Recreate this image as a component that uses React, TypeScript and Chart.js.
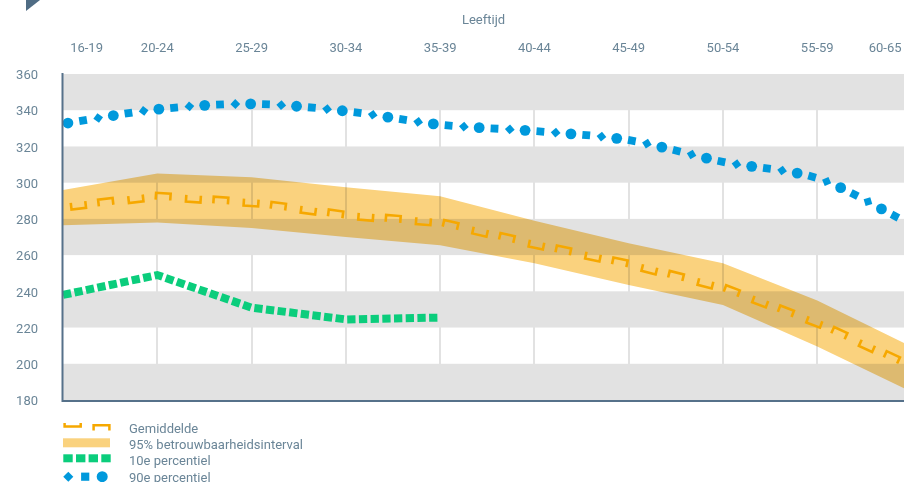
import { useEffect, useRef } from 'react';
import { Chart, registerables } from 'chart.js';

Chart.register(...registerables);

// ---------- data ----------
const AGE_LABELS = ['16-19', '20-24', '25-29', '30-34', '35-39', '40-44', '45-49', '50-54', '55-59', '60-65'];
const AGE_LABEL_POS = [0.25, 1, 2, 3, 4, 5, 6, 7, 8, 8.72];
const AGE_X = [0, 1, 2, 3, 4, 5, 6, 7, 8, 8.92];
const X_MIN = 0;
const X_MAX = 8.92;

const MEAN = [286.5, 292.5, 289, 282, 278, 266, 255, 242, 222.5, 200.5];
const CI_UPPER = [296, 305, 303, 297.5, 292.5, 279, 266.5, 255.5, 235, 211.5];
const CI_LOWER = [276.5, 278, 275, 270, 265.5, 255.5, 243.5, 232.5, 209.5, 186.5];
const P10 = [238, 249, 231, 224.5, 225.5];
const P90 = [332.5, 340.5, 343.5, 339.5, 332, 328.5, 323.5, 311.5, 302.5, 279];

const Y_MIN = 180;
const Y_MAX = 360;
const Y_STEP = 20;

const X_TITLE = 'Leeftijd';
const LEGEND_LABELS = ['Gemiddelde', '95% betrouwbaarheidsinterval', '10e percentiel', '90e percentiel'];

// ---------- styles ----------
const FONT = 'Roboto, "DejaVu Sans", sans-serif';
const TEXT = '#6a8597';
const GRAY = '#e2e2e2';
const AXIS = '#56718a';
const ORANGE = '#f6a800';
const BAND = '#fad27e';
const GREEN = '#0bcd7c';
const BLUE = '#0099dc';

const BAND_INDEX = 4;

const toXY = (vals: number[]) => vals.map((v, i) => ({ x: AGE_X[i], y: v }));

type P = { x: number; y: number };

function smoothPoly(pts: P[], t: number): P[] {
  const n = pts.length;
  const cps = pts.map((p, i) => {
    const prev = pts[i - 1] || p;
    const next = pts[i + 1] || p;
    const d01 = Math.hypot(p.x - prev.x, p.y - prev.y);
    const d12 = Math.hypot(next.x - p.x, next.y - p.y);
    let s01 = d01 / (d01 + d12);
    let s12 = d12 / (d01 + d12);
    if (!isFinite(s01)) s01 = 0;
    if (!isFinite(s12)) s12 = 0;
    const fa = t * s01;
    const fb = t * s12;
    return {
      c1: { x: p.x - fa * (next.x - prev.x), y: p.y - fa * (next.y - prev.y) },
      c2: { x: p.x + fb * (next.x - prev.x), y: p.y + fb * (next.y - prev.y) },
    };
  });
  const out: P[] = [pts[0]];
  for (let i = 0; i < n - 1; i++) {
    const p0 = pts[i], p1 = cps[i].c2, p2 = cps[i + 1].c1, p3 = pts[i + 1];
    for (let k = 1; k <= 30; k++) {
      const u = k / 30, m = 1 - u;
      out.push({
        x: m * m * m * p0.x + 3 * m * m * u * p1.x + 3 * m * u * u * p2.x + u * u * u * p3.x,
        y: m * m * m * p0.y + 3 * m * m * u * p1.y + 3 * m * u * u * p2.y + u * u * u * p3.y,
      });
    }
  }
  return out;
}

function walkPath(poly: P[], start: number, steps: number[], cb: (x: number, y: number, a: number, k: number) => void) {
  const lens: number[] = [];
  let total = 0;
  for (let i = 0; i < poly.length - 1; i++) {
    const l = Math.hypot(poly[i + 1].x - poly[i].x, poly[i + 1].y - poly[i].y);
    lens.push(l);
    total += l;
  }
  let idx = 0;
  let acc = 0;
  let d = start;
  let k = 0;
  while (d <= total) {
    while (idx < lens.length - 1 && acc + lens[idx] < d) {
      acc += lens[idx];
      idx++;
    }
    const f = lens[idx] ? (d - acc) / lens[idx] : 0;
    const a = poly[idx], b = poly[idx + 1];
    const x = a.x + (b.x - a.x) * f;
    const y = a.y + (b.y - a.y) * f;
    cb(x, y, Math.atan2(b.y - a.y, b.x - a.x), k);
    d += steps[k % steps.length];
    k++;
  }
}

function drawBracket(ctx: CanvasRenderingContext2D, x: number, y: number, a: number, up: boolean, hw: number, h: number) {
  ctx.save();
  ctx.translate(x, y);
  ctx.rotate(a);
  ctx.beginPath();
  if (up) {
    ctx.moveTo(-hw, -h);
    ctx.lineTo(-hw, h);
    ctx.lineTo(hw, h);
    ctx.lineTo(hw, -h);
  } else {
    ctx.moveTo(-hw, h);
    ctx.lineTo(-hw, -h);
    ctx.lineTo(hw, -h);
    ctx.lineTo(hw, h);
  }
  ctx.stroke();
  ctx.restore();
}

function drawBlueShape(ctx: CanvasRenderingContext2D, x: number, y: number, a: number, kind: number, s = 1) {
  ctx.save();
  ctx.translate(x, y);
  ctx.beginPath();
  if (kind === 0) {
    ctx.arc(0, 0, 5.4 * s, 0, Math.PI * 2);
  } else if (kind === 1) {
    ctx.rotate(a);
    const h = 3.9 * s;
    ctx.rect(-h, -h, 2 * h, 2 * h);
  } else {
    ctx.rotate(a);
    const r = 4.9 * s;
    ctx.moveTo(0, -r);
    ctx.lineTo(r, 0);
    ctx.lineTo(0, r);
    ctx.lineTo(-r, 0);
    ctx.closePath();
  }
  ctx.fill();
  ctx.restore();
}

const decorPlugin = {
  id: 'decor',
  beforeDraw(chart: any) {
    const { ctx, chartArea: ar, scales } = chart;
    const y = scales.y;
    ctx.save();
    ctx.fillStyle = GRAY;
    for (let v = Y_MIN; v < Y_MAX; v += Y_STEP) {
      if (Math.round((v - Y_MIN) / Y_STEP) % 2 === 0) {
        const top = y.getPixelForValue(v + Y_STEP);
        const bot = y.getPixelForValue(v);
        ctx.fillRect(ar.left, top, ar.right - ar.left, bot - top);
      }
    }
    ctx.fillStyle = '#4f6c84';
    ctx.beginPath();
    ctx.moveTo(26, 0);
    ctx.lineTo(40, 0);
    ctx.lineTo(26, 11);
    ctx.closePath();
    ctx.fill();
    ctx.restore();
  },
  beforeDatasetsDraw(chart: any) {
    chart.ctx.globalCompositeOperation = 'multiply';
  },
  afterDatasetDraw(chart: any, args: any) {
    if (args.index === BAND_INDEX) chart.ctx.globalCompositeOperation = 'source-over';
  },
  afterDatasetsDraw(chart: any) {
    const { ctx, chartArea: ar } = chart;
    ctx.globalCompositeOperation = 'source-over';

    // mean line (brackets)
    const meanPts: P[] = chart.getDatasetMeta(1).data.map((e: any) => ({ x: e.x, y: e.y }));
    ctx.save();
    ctx.strokeStyle = ORANGE;
    ctx.lineWidth = 2.6;
    ctx.lineJoin = 'miter';
    ctx.lineCap = 'butt';
    walkPath(meanPts, 15.5, [27.5, 30.3], (x, y, a, k) => {
      drawBracket(ctx, x, y, a, k % 2 === 0, 7.3, 3.4);
    });
    ctx.restore();

    // 90th percentile
    const p90Pts: P[] = chart.getDatasetMeta(0).data.map((e: any) => ({ x: e.x, y: e.y }));
    const poly = smoothPoly(p90Pts, 0.3);
    ctx.save();
    ctx.fillStyle = BLUE;
    walkPath(poly, 5, [15.33], (x, y, a, k) => drawBlueShape(ctx, x, y, a, k % 3));
    ctx.restore();

    // axis lines
    ctx.save();
    ctx.strokeStyle = AXIS;
    ctx.lineWidth = 2;
    ctx.beginPath();
    ctx.moveTo(ar.left - 0.5, ar.top - 1);
    ctx.lineTo(ar.left - 0.5, ar.bottom + 2);
    ctx.moveTo(ar.left - 1.5, ar.bottom + 1);
    ctx.lineTo(ar.right, ar.bottom + 1);
    ctx.stroke();
    ctx.restore();
  },
  afterDraw(chart: any) {
    const { ctx } = chart;
    ctx.save();
    // Gemiddelde
    ctx.strokeStyle = ORANGE;
    ctx.lineWidth = 2.5;
    ctx.lineJoin = 'miter';
    ctx.beginPath();
    ctx.moveTo(64.6, 423);
    ctx.lineTo(64.6, 426.6);
    ctx.lineTo(80.7, 426.6);
    ctx.lineTo(80.7, 423);
    ctx.moveTo(93.6, 430.5);
    ctx.lineTo(93.6, 425.3);
    ctx.lineTo(109.4, 425.3);
    ctx.lineTo(109.4, 430.5);
    ctx.stroke();
    // band
    ctx.fillStyle = BAND;
    ctx.fillRect(63, 438.3, 47, 9);
    // 10e
    ctx.fillStyle = GREEN;
    [63.3, 76, 88.6, 101.3].forEach((x) => ctx.fillRect(x, 454.3, 9.4, 8));
    // 90e
    ctx.fillStyle = BLUE;
    drawBlueShape(ctx, 68.3, 476.7, 0, 2, 1.03);
    drawBlueShape(ctx, 85.2, 476.7, 0, 1, 1.05);
    drawBlueShape(ctx, 102.2, 476.7, 0, 0, 1.02);
    // labels
    ctx.fillStyle = TEXT;
    ctx.font = `13px ${FONT}`;
    ctx.textBaseline = 'middle';
    ctx.textAlign = 'left';
    const ys = [430, 445.5, 461.5, 479];
    LEGEND_LABELS.forEach((t, i) => ctx.fillText(t, 129, ys[i]));
    ctx.restore();
  },
};

export default function App() {
  const ref = useRef<HTMLCanvasElement>(null);

  useEffect(() => {
    const canvas = ref.current;
    if (!canvas) return;
    const chart = new Chart(canvas, {
      type: 'line',
      data: {
        datasets: [
          {
            label: '90e percentiel',
            data: toXY(P90),
            borderWidth: 0,
            borderColor: 'rgba(0,0,0,0)',
            pointRadius: 0,
            tension: 0.3,
          },
          {
            label: 'Gemiddelde',
            data: toXY(MEAN),
            borderWidth: 0,
            borderColor: 'rgba(0,0,0,0)',
            pointRadius: 0,
          },
          {
            label: '10e percentiel',
            data: toXY(P10),
            borderColor: GREEN,
            borderWidth: 8,
            borderDash: [8.3, 3.4],
            borderCapStyle: 'butt',
            pointRadius: 0,
            tension: 0,
          },
          {
            label: 'CI lower',
            data: toXY(CI_LOWER),
            borderWidth: 0,
            borderColor: 'rgba(0,0,0,0)',
            pointRadius: 0,
            fill: false,
          },
          {
            label: '95% betrouwbaarheidsinterval',
            data: toXY(CI_UPPER),
            borderWidth: 0,
            borderColor: 'rgba(0,0,0,0)',
            backgroundColor: BAND,
            pointRadius: 0,
            fill: '-1',
          },
        ],
      },
      options: {
        responsive: false,
        devicePixelRatio: 1,
        animation: false,
        events: [],
        layout: { padding: { top: 0, left: 0, right: 0, bottom: 82 } },
        plugins: {
          legend: { display: false },
          tooltip: { enabled: false },
          filler: { propagate: false },
        },
        scales: {
          x: {
            type: 'linear',
            position: 'top',
            min: X_MIN,
            max: X_MAX,
            afterBuildTicks: (s: any) => {
              s.ticks = AGE_LABEL_POS.map((v) => ({ value: v }));
            },
            afterFit: (s: any) => {
              s.height = 74;
              s.paddingLeft = 0;
              s.paddingRight = 0;
            },
            ticks: {
              autoSkip: false,
              maxRotation: 0,
              minRotation: 0,
              padding: 17,
              color: TEXT,
              font: { family: FONT, size: 13 },
              callback: (_v: any, i: number) => AGE_LABELS[i],
            },
            grid: {
              drawTicks: false,
              lineWidth: 2,
              color: (c: any) => (c.index >= 1 && c.index <= 8 ? GRAY : 'rgba(0,0,0,0)'),
            },
            border: { display: false },
            title: {
              display: true,
              text: X_TITLE,
              color: TEXT,
              font: { family: FONT, size: 13 },
              padding: { top: 13, bottom: 0 },
            },
          },
          y: {
            min: Y_MIN,
            max: Y_MAX,
            afterFit: (s: any) => {
              s.width = 63;
            },
            ticks: {
              stepSize: Y_STEP,
              padding: 25,
              labelOffset: 2,
              color: TEXT,
              font: { family: FONT, size: 13 },
            },
            grid: { display: false, drawTicks: false },
            border: { display: false },
          },
        },
      },
      plugins: [decorPlugin],
    } as any);
    return () => chart.destroy();
  }, []);

  return (
    <div style={{ position: 'fixed', left: 0, top: 0, width: 904, height: 482, background: '#fff' }}>
      <canvas ref={ref} width={904} height={482} style={{ display: 'block', width: 904, height: 482 }} />
    </div>
  );
}
